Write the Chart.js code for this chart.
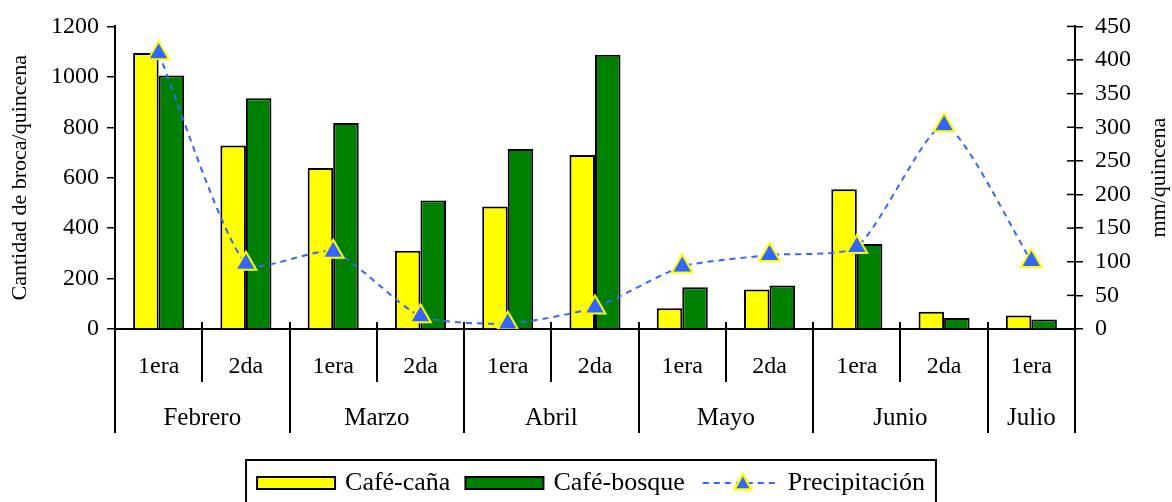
<!DOCTYPE html>
<html>
<head>
<meta charset="utf-8">
<script src="https://cdn.jsdelivr.net/npm/chart.js@4.4.0/dist/chart.umd.min.js"></script>
<style>
  html, body { margin: 0; padding: 0; background: #fff; }
</style>
</head>
<body>
<canvas id="grafico" width="1172" height="502"></canvas>
<script>
const quincenas = ['1era', '2da', '1era', '2da', '1era', '2da', '1era', '2da', '1era', '2da', '1era'];
const meses = ['Febrero', 'Marzo', 'Abril', 'Mayo', 'Junio', 'Julio'];
const quincenasPorMes = [2, 2, 2, 2, 2, 1];
const cafeCana = [1095, 728, 638, 310, 486, 690, 82, 157, 554, 68, 54];
const cafeBosque = [1005, 915, 817, 510, 714, 1088, 166, 173, 337, 44, 38];
const precipitacion = [410, 97, 115, 19, 8, 32, 93, 110, 122, 303, 101];
const ticksBroca = [0, 200, 400, 600, 800, 1000, 1200];
const ticksLluvia = [0, 50, 100, 150, 200, 250, 300, 350, 400, 450];

const fuente = 'Liberation Serif, Times New Roman, serif';
Chart.defaults.color = '#000';
Chart.defaults.font.family = fuente;

// muestras del cuadro de leyenda
function muestra(tipo, color) {
  const c = document.createElement('canvas');
  c.width = 84; c.height = 26;
  const g = c.getContext('2d');
  if (tipo === 'barra') {
    g.fillStyle = color;
    g.fillRect(3, 7, 78, 12);
    g.strokeStyle = '#000';
    g.lineWidth = 2;
    g.strokeRect(3, 7, 78, 12);
  } else {
    g.strokeStyle = color;
    g.lineWidth = 2;
    g.setLineDash([6, 5]);
    g.beginPath(); g.moveTo(6, 13); g.lineTo(82, 13); g.stroke();
    g.setLineDash([]);
    g.beginPath();
    g.moveTo(46, 4); g.lineTo(54.5, 19.5); g.lineTo(37.5, 19.5); g.closePath();
    g.fillStyle = color; g.fill();
    g.strokeStyle = '#ffff00'; g.lineWidth = 2.5; g.stroke();
  }
  return c;
}

function tituloVertical(ctx, texto, x, y) {
  ctx.save();
  ctx.font = '22px ' + fuente;
  ctx.fillStyle = '#000';
  ctx.textAlign = 'center';
  ctx.textBaseline = 'middle';
  ctx.translate(x, y);
  ctx.rotate(-Math.PI / 2);
  ctx.fillText(texto, 0, 0);
  ctx.restore();
}

const ejeMeses = {
  id: 'ejeMeses',
  afterDraw(chart) {
    const { ctx, chartArea: a, scales: { x, y1 } } = chart;
    ctx.save();
    ctx.strokeStyle = '#000';
    ctx.lineWidth = 2;
    // separadores de quincena y de mes
    const largos = [0];
    let acum = 0;
    quincenasPorMes.forEach(n => { acum += n; largos.push(acum); });
    for (let i = 0; i <= quincenas.length; i++) {
      const px = Math.round(x.getPixelForValue(i - 0.5));
      const largo = largos.includes(i);
      ctx.beginPath();
      ctx.moveTo(px, a.bottom - (i === 0 || i === quincenas.length ? 0 : 7));
      ctx.lineTo(px, a.bottom + (largo ? 104 : 53));
      ctx.stroke();
    }
    // nombres de mes
    ctx.fillStyle = '#000';
    ctx.font = '25px ' + fuente;
    ctx.textAlign = 'center';
    ctx.textBaseline = 'middle';
    let ini = 0;
    meses.forEach((m, k) => {
      const n = quincenasPorMes[k];
      ctx.fillText(m, x.getPixelForValue(ini + n / 2 - 0.5), a.bottom + 89);
      ini += n;
    });
    // marcas internas del eje derecho
    ctx.lineWidth = 1.5;
    y1.ticks.forEach(t => {
      const py = y1.getPixelForValue(t.value);
      ctx.beginPath(); ctx.moveTo(a.right - 8, py); ctx.lineTo(a.right, py); ctx.stroke();
    });
    ctx.restore();
    // titulos de los ejes
    const medio = (a.top + a.bottom) / 2;
    tituloVertical(ctx, 'Cantidad de broca/quincena', 20, medio);
    tituloVertical(ctx, 'mm/quincena', 1159, medio);
    // marco de la leyenda
    const cajas = chart.legend.legendHitBoxes;
    if (cajas && cajas.length) {
      const izq = Math.min(...cajas.map(b => b.left)) - 14;
      const der = Math.max(...cajas.map(b => b.left + b.width)) + 11;
      const arriba = cajas[0].top - 10;
      ctx.save();
      ctx.strokeStyle = '#000';
      ctx.lineWidth = 2;
      ctx.strokeRect(izq, arriba, der - izq, chart.height - arriba + 10);
      ctx.restore();
    }
  }
};

new Chart(document.getElementById('grafico'), {
  data: {
    labels: quincenas,
    datasets: [
      {
        type: 'line',
        label: 'Precipitación',
        data: precipitacion,
        yAxisID: 'y1',
        order: 0,
        borderColor: '#3366ff',
        borderWidth: 2,
        borderDash: [6, 5],
        tension: 0.2,
        pointStyle: 'triangle',
        pointRadius: 12,
        pointBackgroundColor: '#3366ff',
        pointBorderColor: '#ffff00',
        pointBorderWidth: 2
      },
      {
        type: 'bar',
        label: 'Café-caña',
        data: cafeCana,
        yAxisID: 'y',
        order: 1,
        backgroundColor: '#ffff00',
        borderColor: '#000',
        borderWidth: 2,
        categoryPercentage: 0.585,
        barPercentage: 1
      },
      {
        type: 'bar',
        label: 'Café-bosque',
        data: cafeBosque,
        yAxisID: 'y',
        order: 1,
        backgroundColor: '#008000',
        borderColor: '#000',
        borderWidth: 2,
        categoryPercentage: 0.585,
        barPercentage: 1
      }
    ]
  },
  options: {
    responsive: false,
    animation: false,
    layout: { padding: { top: 23, left: 13, right: 0, bottom: -4 } },
    plugins: {
      tooltip: { enabled: false },
      legend: {
        position: 'bottom',
        labels: {
          font: { size: 26, family: fuente },
          padding: 18,
          usePointStyle: true,
          pointStyleWidth: 72,
          generateLabels() {
            return [
              { text: 'Café-caña', pointStyle: muestra('barra', '#ffff00'), datasetIndex: 1, lineWidth: 0 },
              { text: 'Café-bosque', pointStyle: muestra('barra', '#008000'), datasetIndex: 2, lineWidth: 0 },
              { text: 'Precipitación', pointStyle: muestra('linea', '#3366ff'), datasetIndex: 0, lineWidth: 0 }
            ];
          }
        }
      }
    },
    scales: {
      x: {
        offset: true,
        grid: { display: false, drawTicks: false },
        border: { display: true, color: '#000', width: 2 },
        ticks: { font: { size: 24 }, padding: 23, maxRotation: 0, autoSkip: false },
        afterFit(s) { s.height = 123; }
      },
      y: {
        position: 'left',
        min: 0,
        max: 1200,
        afterBuildTicks(s) { s.ticks = ticksBroca.map(v => ({ value: v })); },
        grid: { drawOnChartArea: false, drawTicks: true, tickLength: 8, color: '#000', lineWidth: 1.5 },
        border: { display: true, color: '#000', width: 2 },
        ticks: { font: { size: 24 }, padding: 8, callback: v => String(v) },
        afterFit(s) { s.width = 102; }
      },
      y1: {
        position: 'right',
        min: 0,
        max: 450,
        afterBuildTicks(s) { s.ticks = ticksLluvia.map(v => ({ value: v })); },
        grid: { drawOnChartArea: false, drawTicks: true, tickLength: 8, color: '#000', lineWidth: 1.5 },
        border: { display: true, color: '#000', width: 2 },
        ticks: { font: { size: 24 }, padding: 12, callback: v => String(v) },
        afterFit(s) { s.width = 97; }
      }
    }
  },
  plugins: [ejeMeses]
});
</script>
</body>
</html>
